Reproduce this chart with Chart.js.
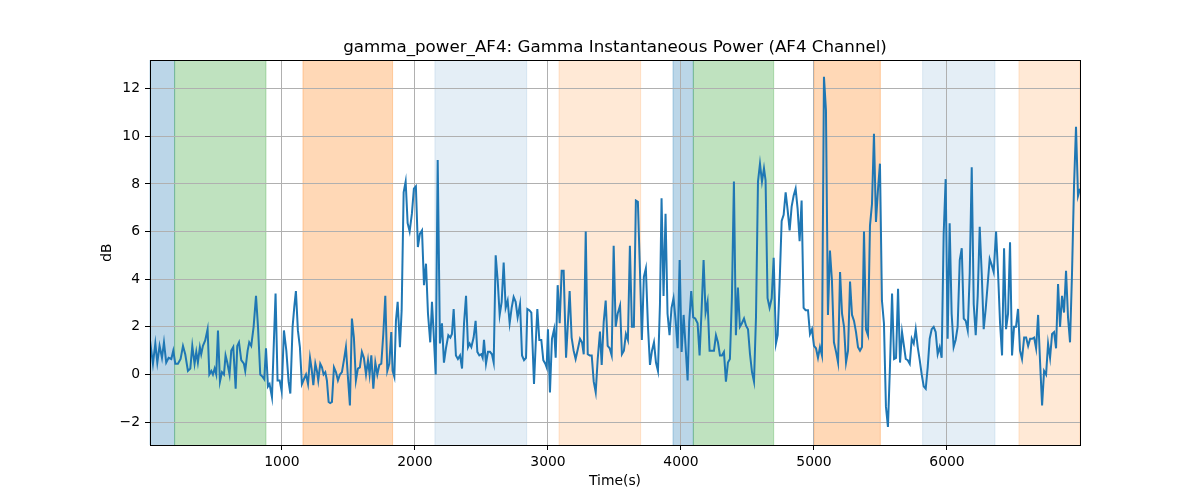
<!DOCTYPE html>
<html>
<head>
<meta charset="utf-8">
<script src="https://cdn.jsdelivr.net/npm/chart.js"></script>
<style>
    html, body { margin: 0; padding: 0; background: #fff; }
    #wrap { width: 1200px; height: 500px; }
</style>
</head>
<body>
<div id="wrap"><canvas id="chart" width="1200" height="500"></canvas></div>
<script>
// Time axis (s) and gamma power (dB)
const times = [
    8, 30, 48, 63, 80, 98, 113, 130, 148, 168, 183, 198, 218, 238, 256, 273, 293, 311, 326, 343,
    356, 368, 383, 393, 406, 423, 441, 454, 469, 481, 494, 506, 519, 534, 549, 564, 576, 589, 606, 619,
    634, 652, 664, 677, 694, 714, 724, 742, 754, 769, 787, 805, 820, 837, 855, 867, 880, 895, 907, 925,
    937, 952, 967, 983, 998, 1015, 1033, 1050, 1063, 1080, 1093, 1105, 1120, 1135, 1150, 1165, 1181, 1196, 1211, 1223,
    1236, 1251, 1263, 1273, 1288, 1301, 1313, 1326, 1338, 1351, 1363, 1376, 1391, 1406, 1421, 1436, 1451, 1466, 1481, 1496,
    1511, 1526, 1541, 1556, 1571, 1586, 1601, 1616, 1632, 1647, 1659, 1672, 1687, 1702, 1717, 1732, 1747, 1762, 1777, 1792,
    1807, 1822, 1832, 1845, 1857, 1870, 1887, 1900, 1915, 1930, 1945, 1960, 1977, 1992, 2007, 2022, 2037, 2053, 2068, 2083,
    2098, 2115, 2128, 2138, 2156, 2171, 2188, 2203, 2218, 2233, 2251, 2266, 2278, 2291, 2308, 2323, 2339, 2354, 2369, 2384,
    2399, 2411, 2424, 2441, 2456, 2469, 2484, 2499, 2509, 2519, 2534, 2549, 2564, 2579, 2592, 2607, 2622, 2637, 2652, 2667,
    2682, 2697, 2712, 2727, 2742, 2757, 2772, 2790, 2805, 2820, 2835, 2845, 2860, 2875, 2895, 2908, 2920, 2935, 2950, 2965,
    2980, 2990, 3000, 3015, 3030, 3046, 3058, 3073, 3088, 3103, 3118, 3136, 3151, 3163, 3178, 3193, 3208, 3226, 3241, 3256,
    3269, 3284, 3299, 3314, 3329, 3344, 3359, 3374, 3391, 3404, 3419, 3434, 3449, 3464, 3479, 3494, 3509, 3524, 3542, 3556,
    3571, 3586, 3601, 3616, 3631, 3646, 3661, 3676, 3691, 3706, 3721, 3736, 3752, 3767, 3782, 3797, 3812, 3827, 3842, 3854,
    3869, 3884, 3899, 3914, 3929, 3944, 3960, 3975, 3990, 4005, 4020, 4035, 4050, 4062, 4077, 4092, 4107, 4125, 4140, 4155,
    4170, 4185, 4200, 4215, 4230, 4248, 4263, 4278, 4293, 4308, 4323, 4338, 4353, 4368, 4383, 4398, 4413, 4428, 4443, 4458,
    4474, 4489, 4504, 4519, 4534, 4549, 4564, 4579, 4594, 4609, 4624, 4636, 4651, 4666, 4682, 4697, 4714, 4727, 4742, 4757,
    4772, 4787, 4802, 4817, 4832, 4847, 4862, 4877, 4892, 4907, 4922, 4937, 4955, 4970, 4985, 5000, 5015, 5030, 5045, 5060,
    5075, 5090, 5105, 5120, 5135, 5150, 5166, 5181, 5196, 5211, 5226, 5241, 5256, 5271, 5286, 5301, 5316, 5331, 5346, 5361,
    5376, 5391, 5406, 5421, 5436, 5451, 5466, 5481, 5496, 5511, 5526, 5541, 5556, 5572, 5587, 5602, 5617, 5632, 5647, 5662,
    5690, 5705, 5720, 5735, 5750, 5765, 5780, 5795, 5810, 5825, 5840, 5855, 5870, 5885, 5900, 5915, 5930, 5945, 5960, 5975,
    5990, 6005, 6020, 6035, 6050, 6065, 6080, 6096, 6111, 6126, 6141, 6156, 6171, 6186, 6201, 6216, 6231, 6246, 6261, 6276,
    6291, 6306, 6321, 6336, 6351, 6369, 6384, 6399, 6414, 6429, 6444, 6459, 6474, 6489, 6504, 6519, 6534, 6549, 6564, 6580,
    6595, 6610, 6625, 6640, 6655, 6670, 6685, 6700, 6715, 6730, 6745, 6760, 6775, 6790, 6805, 6820, 6835, 6850, 6865, 6880,
    6895, 6910, 6925, 6940, 6955, 6970, 6985, 7000
];
const gammaPower = [
    1.43, 0.45, 1.3, 0.5, 1.2, 0.7, 1.35, 0.5, 0.7, 0.65, 1.0, 0.45, 0.45, 0.65, 1.2, 0.85, 0.15, 0.25, 1.2, 0.45,
    0.95, 0.5, 1.15, 0.85, 1.2, 1.43, 1.9, 0.0, 0.15, 0.0, 0.25, 0.0, 1.85, -0.3, 0.1, 0.0, 0.8, 0.5, 0.0, 1.0,
    1.15, -0.6, 1.2, 1.35, 0.6, 0.45, 0.15, 1.0, 1.35, 1.2, 2.0, 3.3, 2.0, 0.0, -0.1, -0.2, 1.1, -0.5, -0.4, -0.95,
    1.0, 3.4, -0.25, -0.25, -0.7, 1.85, 1.0, -0.3, -0.8, 2.0, 2.85, 3.5, 1.85, 1.15, -0.4, -0.2, 0.0, -0.4, 0.7, 0.25,
    -0.45, 0.45, 0.15, -0.25, 0.45, 0.3, 0.0, 0.1, -0.25, -1.15, -1.2, -1.15, 0.3, 0.1, -0.25, 0.0, 0.1, 0.6, 1.15, -0.1,
    -1.3, 2.35, 1.55, -0.25, 0.25, 0.3, 0.95, 0.7, 0.0, 0.6, 0.0, 0.8, -0.6, 0.5, 0.0, 0.4, 0.45, 1.7, 3.3, 0.15,
    0.45, 1.78, 0.15, -0.1, 2.25, 3.05, 1.15, 2.7, 7.65, 8.1, 6.35, 6.0, 6.75, 7.8, 7.9, 5.35, 5.9, 6.05, 3.75, 4.65,
    2.55, 1.35, 3.05, 2.0, 0.0, 9.0, 1.3, 2.15, 0.5, 1.1, 1.65, 1.55, 1.7, 2.75, 0.8, 0.65, 0.8, 0.25, 2.15, 3.3,
    1.15, 1.3, 1.15, 1.55, 2.25, 0.95, 0.8, 0.85, 0.7, 1.45, 0.45, 0.95, 0.95, 0.85, 0.5, 5.0, 3.95, 2.5, 3.05, 4.7,
    2.8, 3.1, 2.15, 2.8, 3.25, 3.05, 2.4, 2.95, 0.8, 0.6, 0.7, 2.75, 2.7, 2.6, -0.4, 1.3, 2.75, 1.45, 1.45, 0.6,
    0.45, 0.3, 1.9, -0.75, 1.5, 1.9, 0.7, 3.75, 2.15, 4.35, 4.35, 0.7, 2.25, 3.5, 1.55, 1.0, 0.65, 1.1, 1.5, 1.35,
    0.85, 6.0, 0.85, 0.8, 0.8, -0.3, -0.75, 0.65, 1.8, 0.4, 2.2, 3.1, 1.2, 1.1, 0.8, 5.4, 2.0, 2.55, 2.9, 0.85,
    1.0, 1.7, 1.45, 5.4, 2.0, 2.0, 7.3, 7.25, 4.5, 1.45, 4.1, 4.45, 2.0, 0.4, 1.0, 1.35, 0.5, 0.15, 2.95, 7.4,
    3.3, 6.75, 2.55, 1.65, 2.8, 3.2, 2.25, 1.1, 4.8, 0.95, 2.5, 1.15, -0.25, 2.2, 3.5, 2.4, 2.35, 2.15, 0.8, 2.7,
    4.8, 2.6, 3.05, 1.0, 1.0, 1.0, 1.65, 1.35, 0.8, 0.8, 0.95, -0.3, 0.5, 0.65, 3.25, 8.1, 1.65, 3.65, 2.0, 2.15,
    2.35, 2.05, 1.9, 0.85, 0.1, -0.3, 2.4, 8.1, 8.85, 8.1, 8.65, 8.15, 3.2, 2.8, 3.2, 4.9, 1.3, 1.65, 3.9, 6.45,
    6.7, 7.65, 6.9, 6.05, 7.05, 7.5, 7.8, 6.95, 5.6, 7.3, 2.8, 2.7, 2.7, 1.7, 1.9, 1.2, 1.1, 0.7, 1.15, 0.8,
    12.5, 11.1, 2.5, 5.2, 3.95, 1.35, 0.95, 0.5, 4.3, 2.55, 2.0, 0.5, 1.0, 3.9, 2.5, 2.25, 1.78, 1.15, 1.0, 1.15,
    6.0, 1.9, 1.65, 6.25, 7.15, 10.1, 6.4, 7.75, 8.85, 3.1, 2.15, -1.35, -2.2, 0.45, 3.4, 0.65, 0.7, 3.6, 0.5, 1.78,
    0.65, 0.6, 0.45, 1.5, 1.3, 1.9, 1.15, 0.6, 0.0, -0.5, -0.6, 0.3, 1.5, 1.9, 2.0, 1.78, 0.85, 1.15, 0.7, 5.9,
    8.2, 1.5, 6.35, 2.55, 1.15, 1.45, 2.0, 4.8, 5.3, 2.35, 2.25, 1.85, 4.25, 8.7, 2.95, 1.65, 3.3, 6.2, 4.25, 1.9,
    2.75, 3.8, 4.85, 4.6, 4.3, 6.0, 4.25, 2.15, 0.8, 5.3, 1.9, 2.55, 5.55, 0.8, 2.0, 2.0, 2.75, 1.0, 0.65, 1.55,
    1.55, 1.2, 1.5, 1.5, 1.55, 1.1, 2.5, 0.5, -1.3, 0.15, 0.0, 1.3, 0.7, 1.7, 1.78, 1.1, 3.8, 2.0, 3.3, 2.6,
    4.35, 2.4, 1.35, 4.25, 7.9, 10.4, 7.5, 7.8
];

const xTicks = [1000, 2000, 3000, 4000, 5000, 6000];
const yTicks = [-2, 0, 2, 4, 6, 8, 10, 12];

// Shaded event windows
const spanStarts = [8, 193, 1158, 2150, 3083, 3940, 4093, 5003, 5817, 6541];
const spanEnds = [193, 880, 1832, 2840, 3697, 4093, 4697, 5499, 6361, 7000];
const spanColors = [
    'rgba(31,119,180,0.3)', 'rgba(44,160,44,0.3)', 'rgba(255,127,14,0.3)',
    'rgba(31,119,180,0.12)', 'rgba(255,127,14,0.17)', 'rgba(31,119,180,0.3)',
    'rgba(44,160,44,0.3)', 'rgba(255,127,14,0.3)', 'rgba(31,119,180,0.12)',
    'rgba(255,127,14,0.17)'
];

const FONT = "'DejaVu Sans', sans-serif";
const minus = v => (v < 0 ? '\u2212' + Math.abs(v) : String(v));

// Background + spans go under the grid, frame goes on top of everything
const spanPlugin = {
    id: 'spans',
    beforeDraw(chart) {
        const { ctx, chartArea, scales } = chart;
        ctx.save();
        ctx.fillStyle = '#fff';
        ctx.fillRect(0, 0, chart.width, chart.height);
        spanStarts.forEach((s, i) => {
            const x0 = scales.x.getPixelForValue(s);
            const x1 = scales.x.getPixelForValue(spanEnds[i]);
            ctx.fillStyle = spanColors[i];
            ctx.fillRect(x0, chartArea.top, x1 - x0, chartArea.bottom - chartArea.top);
            ctx.strokeStyle = spanColors[i];
            ctx.lineWidth = 1;
            ctx.beginPath();
            ctx.moveTo(x0, chartArea.top);
            ctx.lineTo(x0, chartArea.bottom);
            ctx.moveTo(x1, chartArea.top);
            ctx.lineTo(x1, chartArea.bottom);
            ctx.stroke();
        });
        ctx.restore();
    },
    afterDraw(chart) {
        const { ctx, chartArea } = chart;
        ctx.save();
        ctx.strokeStyle = '#000';
        ctx.lineWidth = 1;
        ctx.strokeRect(Math.round(chartArea.left) + 0.5, Math.round(chartArea.top) + 0.5,
            Math.round(chartArea.right - chartArea.left), Math.round(chartArea.bottom - chartArea.top));
        ctx.restore();
    }
};

new Chart(document.getElementById('chart'), {
    type: 'line',
    data: {
        datasets: [{
            data: times.map((t, i) => ({ x: t, y: gammaPower[i] })),
            borderColor: '#1f77b4',
            borderWidth: 2,
            pointRadius: 0,
            tension: 0,
            fill: false
        }]
    },
    options: {
        responsive: false,
        animation: false,
        layout: { padding: { left: 0, right: 120, top: 0, bottom: 0 } },
        plugins: {
            legend: { display: false },
            tooltip: { enabled: false },
            title: {
                display: true,
                fullSize: false,
                text: 'gamma_power_AF4: Gamma Instantaneous Power (AF4 Channel)',
                color: '#000',
                font: { family: FONT, size: 16.7, weight: 'normal' },
                padding: { top: 38, bottom: 2 }
            }
        },
        scales: {
            x: {
                type: 'linear',
                min: 8,
                max: 7000,
                afterFit: s => { s.height = 55; },
                afterBuildTicks: s => { s.ticks = xTicks.map(v => ({ value: v })); },
                grid: { color: '#b0b0b0', lineWidth: 1, tickLength: 5, tickColor: '#000' },
                border: { display: false },
                ticks: {
                    autoSkip: false, maxRotation: 0, padding: 4, color: '#000',
                    font: { family: FONT, size: 13.9 },
                    callback: v => minus(v)
                },
                title: {
                    display: true, text: 'Time(s)', color: '#000',
                    font: { family: FONT, size: 13.9 },
                    padding: { top: 0, bottom: 10 }
                }
            },
            y: {
                min: -2.96,
                max: 13.2,
                afterFit: s => { s.width = 150; },
                afterBuildTicks: s => { s.ticks = yTicks.map(v => ({ value: v })); },
                grid: { color: '#b0b0b0', lineWidth: 1, tickLength: 5, tickColor: '#000' },
                border: { display: false },
                ticks: {
                    autoSkip: false, padding: 5, color: '#000',
                    font: { family: FONT, size: 13.9 },
                    callback: v => minus(v)
                },
                title: {
                    display: true, text: 'dB', color: '#000',
                    font: { family: FONT, size: 13.9 },
                    padding: { top: 99, bottom: 0 }
                }
            }
        }
    },
    plugins: [spanPlugin]
});
</script>
</body>
</html>
